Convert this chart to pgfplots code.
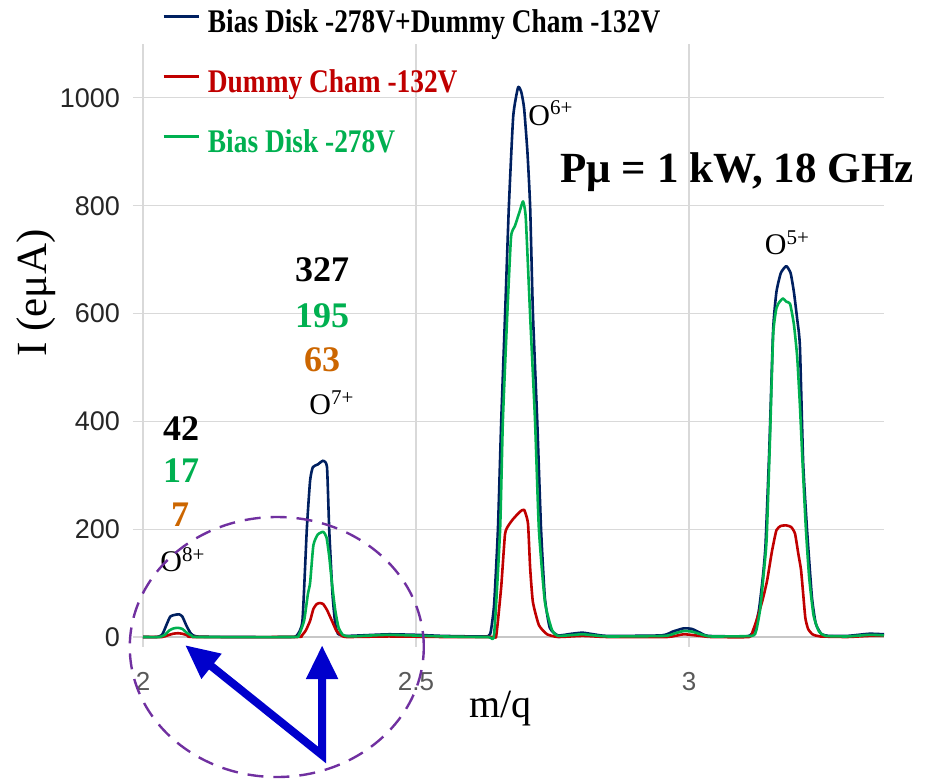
\documentclass[border=0pt]{standalone}
\usepackage{fontspec}
\setmainfont{Liberation Serif}
\setsansfont{Liberation Sans}
\usepackage{graphicx}
\usepackage{pgfplots}
\pgfplotsset{compat=1.18}
\usetikzlibrary{arrows.meta}

\definecolor{navy}{RGB}{0,32,96}
\definecolor{dred}{RGB}{192,0,0}
\definecolor{xlgreen}{RGB}{0,176,80}
\definecolor{dorange}{RGB}{204,102,0}
\definecolor{ellpurple}{RGB}{112,48,160}
\definecolor{arrblue}{RGB}{0,0,204}
\definecolor{gridgray}{RGB}{217,217,217}
\definecolor{ytext}{RGB}{38,38,38}
\definecolor{xtext}{RGB}{89,89,89}

\begin{document}
\begin{tikzpicture}
\useasboundingbox (-71.5pt,-71pt) rectangle (395.5pt,318.5pt);
\begin{axis}[
    at={(0pt,0pt)}, anchor=south west,
    scale only axis, width=370.5pt, height=296.5pt,
    xmin=2, xmax=3.357, ymin=0, ymax=1100,
    xtick={2,2.5,3}, ytick={0,200,400,600,800,1000},
    xmajorgrids, ymajorgrids,
    major grid style={gridgray, line width=0.6pt},
    axis x line*=bottom, axis y line*=left,
    x axis line style={-, gridgray!80!gray, line width=0.7pt},
    y axis line style={-, gridgray, line width=0.7pt},
    tick align=outside, major tick length=5pt,
    tick style={gridgray, line width=0.6pt},
    /pgf/number format/assume math mode=true,
    /pgf/number format/1000 sep={},
    yticklabel style={font=\fontsize{13.5}{15}\sffamily, text=ytext, xshift=-3pt},
    xticklabel style={font=\fontsize{13}{15}\sffamily, text=xtext, yshift=-9pt},
    xlabel={m/q}, ylabel={I (eμA)},
    xlabel style={at={(axis description cs:0.482,-0.12)}, anchor=center, font=\fontsize{20}{24}\selectfont},
    ylabel style={at={(axis description cs:-0.144,0.58)}, anchor=center, font=\fontsize{21.5}{24}\selectfont},
    clip=false,
    legend style={at={(axis description cs:0.0175,1.0675)}, anchor=north west,
        draw=none, fill=none, font=\fontsize{16.5}{18}\selectfont\bfseries,
        row sep=14pt, column sep=4pt,
        nodes={inner sep=0pt, text height=12pt, text depth=4pt}},
    legend cell align=left,
    legend image code/.code={\draw[#1, line width=1.3pt] (0pt,4pt) -- (17.5pt,4pt);},
    every axis plot/.append style={line width=1.3pt, line join=round, smooth, tension=0.3},
]

% Bias Disk -278V + Dummy Cham -132V
\addplot[navy] coordinates {
(2.000,0) (2.025,0) (2.035,4) (2.044,25) (2.050,38) (2.058,41) (2.066,42) (2.072,38)
(2.080,20) (2.088,6) (2.098,1) (2.150,0) (2.270,0) (2.282,3) (2.292,30) (2.300,200)
(2.306,290) (2.311,315) (2.320,320) (2.330,327) (2.337,315) (2.341,200) (2.347,80)
(2.352,25) (2.357,6) (2.370,2) (2.400,3) (2.450,5) (2.500,4) (2.550,2) (2.625,1)
(2.636,6) (2.643,60) (2.650,200) (2.656,400) (2.663,596) (2.670,798) (2.678,966)
(2.687,1020) (2.693,1010) (2.698,980) (2.704,900) (2.709,798) (2.714,603) (2.722,400)
(2.729,199) (2.736,72) (2.745,17) (2.760,3) (2.785,6) (2.805,8) (2.825,5) (2.850,2)
(2.950,3) (2.970,10) (2.990,16) (3.005,15) (3.020,8) (3.035,2) (3.100,1) (3.112,3)
(3.120,15) (3.128,50) (3.135,110) (3.140,170) (3.147,350) (3.154,570) (3.160,640)
(3.168,675) (3.178,688) (3.186,675) (3.192,640) (3.198,590) (3.203,540) (3.209,323)
(3.216,200) (3.225,74) (3.232,25) (3.242,6) (3.255,2) (3.290,2) (3.330,6) (3.357,5)
};
\addlegendentry{\scalebox{0.83}[1]{Bias Disk -278V+Dummy Cham -132V}}

% Dummy Cham -132V
\addplot[dred] coordinates {
(2.000,0) (2.035,0) (2.045,3) (2.055,6) (2.064,7) (2.072,6) (2.082,3) (2.092,0)
(2.280,0) (2.290,2) (2.298,12) (2.306,30) (2.312,52) (2.318,61) (2.324,63) (2.330,61)
(2.337,50) (2.346,30) (2.354,12) (2.362,4) (2.372,0) (2.450,1) (2.550,0) (2.640,0)
(2.647,3) (2.656,93) (2.663,191) (2.670,208) (2.678,219) (2.690,232) (2.698,236)
(2.705,211) (2.709,128) (2.714,65) (2.725,22) (2.740,5) (2.760,0) (2.805,2) (2.850,0)
(2.960,0) (2.990,5) (3.020,2) (3.040,0) (3.110,0) (3.117,12) (3.125,35) (3.135,70)
(3.143,105) (3.152,160) (3.160,198) (3.168,206) (3.178,207) (3.187,204) (3.194,192)
(3.200,155) (3.205,125) (3.209,80) (3.213,35) (3.218,15) (3.226,5) (3.240,1)
(3.290,0) (3.330,2) (3.357,2)
};
\addlegendentry{\scalebox{0.83}[1]{\color{dred}Dummy Cham -132V}}

% Bias Disk -278V
\addplot[xlgreen] coordinates {
(2.000,0) (2.030,0) (2.040,4) (2.048,12) (2.056,16) (2.064,17) (2.072,15) (2.080,8)
(2.090,2) (2.100,0) (2.275,0) (2.285,3) (2.295,30) (2.302,80) (2.306,100) (2.312,170)
(2.320,190) (2.330,195) (2.336,185) (2.341,150) (2.346,100) (2.352,50) (2.358,18)
(2.366,4) (2.380,1) (2.450,4) (2.550,1) (2.632,0) (2.643,5) (2.654,200) (2.659,400)
(2.667,596) (2.674,742) (2.681,762) (2.690,790) (2.696,808) (2.701,777) (2.709,596)
(2.718,400) (2.725,200) (2.736,65) (2.749,13) (2.760,2) (2.805,5) (2.850,1) (2.955,2)
(2.975,7) (2.990,11) (3.005,10) (3.025,4) (3.040,1) (3.115,2) (3.123,12) (3.130,50)
(3.136,110) (3.142,180) (3.148,360) (3.154,560) (3.160,610) (3.166,622) (3.172,628)
(3.178,622) (3.185,618) (3.192,580) (3.198,520) (3.203,430) (3.208,320) (3.214,200)
(3.220,110) (3.228,40) (3.238,10) (3.250,2) (3.290,1) (3.330,4) (3.357,3)
};
\addlegendentry{\scalebox{0.83}[1]{\color{xlgreen}Bias Disk -278V}}

% annotations
\node[font=\fontsize{18}{20}\selectfont\bfseries] at (axis cs:2.0696,386) {42};
\node[font=\fontsize{18}{20}\selectfont\bfseries, text=xlgreen] at (axis cs:2.0696,308) {17};
\node[font=\fontsize{18}{20}\selectfont\bfseries, text=dorange] at (axis cs:2.068,226) {7};
\node[font=\fontsize{15}{17}\selectfont] at (axis cs:2.073,143) {O\textsuperscript{8+}};
\node[font=\fontsize{18}{20}\selectfont\bfseries] at (axis cs:2.328,681) {327};
\node[font=\fontsize{18}{20}\selectfont\bfseries, text=xlgreen] at (axis cs:2.328,596) {195};
\node[font=\fontsize{18}{20}\selectfont\bfseries, text=dorange] at (axis cs:2.328,514) {63};
\node[font=\fontsize{15}{17}\selectfont] at (axis cs:2.346,434) {O\textsuperscript{7+}};
\node[font=\fontsize{15}{17}\selectfont] at (axis cs:2.747,972) {O\textsuperscript{6+}};
\node[font=\fontsize{15}{17}\selectfont] at (axis cs:3.180,731) {O\textsuperscript{5+}};
\node[font=\fontsize{21.5}{24}\selectfont\bfseries] at (axis cs:3.088,863) {Pμ = 1 kW, 18 GHz};

\draw[ellpurple, line width=1.2pt, dash pattern=on 8pt off 5pt]
    (axis cs:2.245,-18.6) ellipse [x radius=73.5pt, y radius=65pt];
\draw[arrblue, line width=4pt, line join=miter,
      {Triangle[width=15pt,length=17pt]}-{Triangle[width=15pt,length=17pt]}]
    (axis cs:2.077,-15) -- (axis cs:2.328,-219) -- (axis cs:2.328,-15);
\end{axis}
\end{tikzpicture}
\end{document}
